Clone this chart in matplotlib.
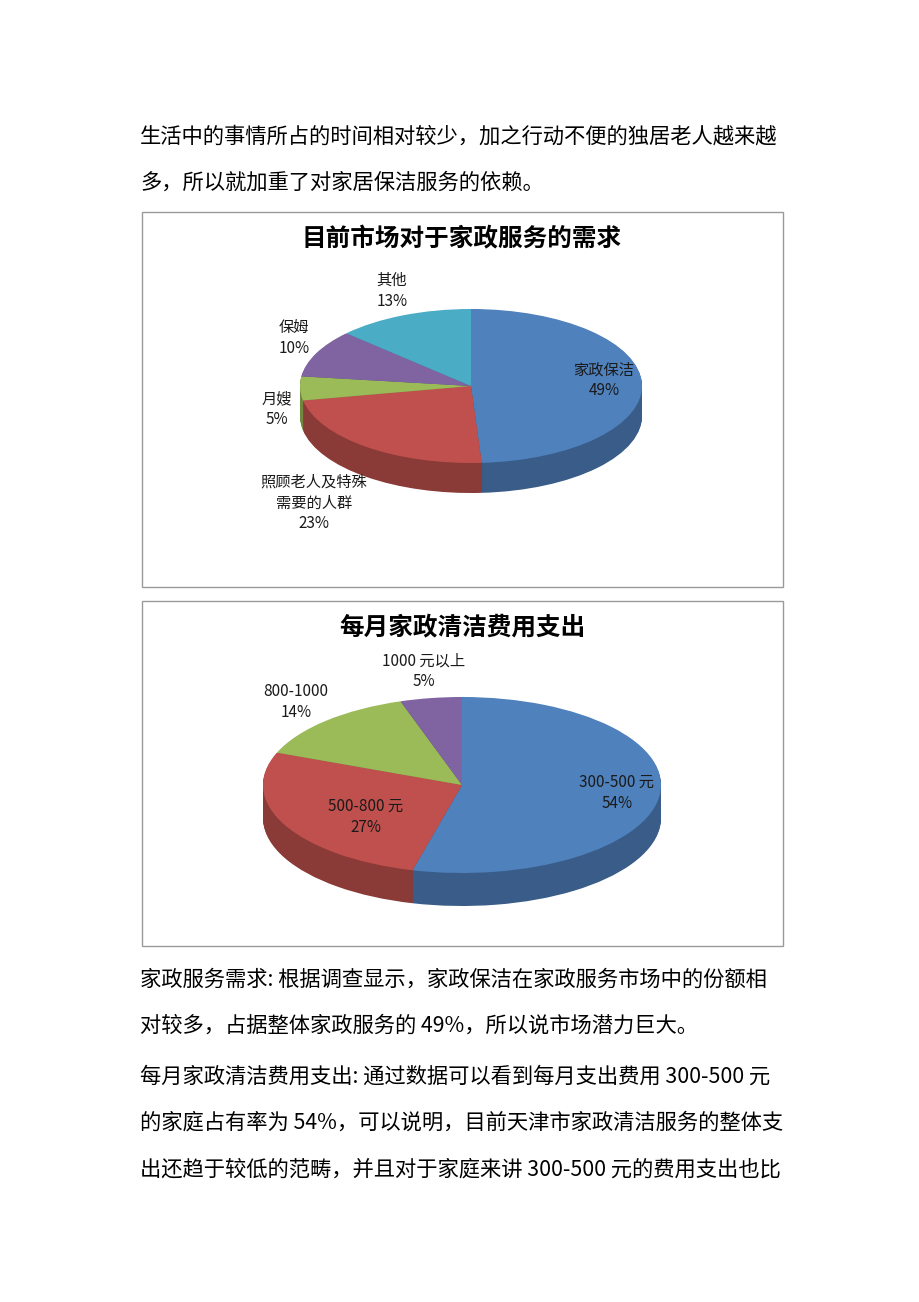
import numpy as np
import matplotlib
matplotlib.use("Agg")
import matplotlib.pyplot as plt
from matplotlib.colors import to_rgb
from matplotlib.patches import Rectangle

plt.rcParams['font.family'] = ['Noto Sans CJK SC', 'DejaVu Sans']

# data
demand_labels = ['家政保洁', '照顾老人及特殊\n需要的人群', '月嫂', '保姆', '其他']
demand_values = [49, 23, 5, 10, 13]
demand_colors = ['#4F81BD', '#C0504D', '#9BBB59', '#8064A2', '#4BACC6']

cost_labels = ['300-500 元', '500-800 元', '800-1000', '1000 元以上']
cost_values = [54, 27, 14, 5]
cost_colors = ['#4F81BD', '#C0504D', '#9BBB59', '#8064A2']

text_top = ['生活中的事情所占的时间相对较少，加之行动不便的独居老人越来越',
            '多，所以就加重了对家居保洁服务的依赖。']
text_bottom = ['家政服务需求: 根据调查显示，家政保洁在家政服务市场中的份额相',
               '对较多，占据整体家政服务的 49%，所以说市场潜力巨大。',
               '每月家政清洁费用支出: 通过数据可以看到每月支出费用 300-500 元',
               '的家庭占有率为 54%，可以说明，目前天津市家政清洁服务的整体支',
               '出还趋于较低的范畴，并且对于家庭来讲 300-500 元的费用支出也比']

W, H = 920, 1302
fig = plt.figure(figsize=(W / 100, H / 100), dpi=100)
fig.patch.set_facecolor('white')

# page layer in pixel coordinates
page = fig.add_axes([0, 0, 1, 1])
page.set_xlim(0, W)
page.set_ylim(H, 0)
page.axis('off')

for y, line in zip([137, 183], text_top):
    page.text(140, y, line, fontsize=15.35, va='center', ha='left', color='black')
for y, line in zip([980, 1026, 1077, 1123, 1170], text_bottom):
    page.text(140, y, line, fontsize=15.35, va='center', ha='left', color='black')

# chart frames
for top, bot in [(212, 587), (601, 946)]:
    page.add_patch(Rectangle((142, top), 641, bot - top, fill=False,
                             edgecolor='#9a9a9a', linewidth=1))

page.text(462, 239, '目前市场对于家政服务的需求', fontsize=17.7, fontweight='bold',
          ha='center', va='center')
page.text(462, 627, '每月家政清洁费用支出', fontsize=17.7, fontweight='bold',
          ha='center', va='center')


def pie3d(values, colors, cx, cy, a, b, depth):
    d = depth / b
    pad = 1.05
    left = cx - pad * a
    top = cy - pad * b
    w = 2 * pad * a
    h = (2 * pad + d) * b
    ax = fig.add_axes([left / W, 1 - (top + h) / H, w / W, h / H])
    dark = [tuple(c * 0.72 for c in to_rgb(col)) for col in colors]
    n = 40
    for k in range(n, 0, -1):
        ax.pie(values, colors=dark, startangle=90, counterclock=False,
               center=(0, -d * k / n), wedgeprops=dict(linewidth=0))
    ax.pie(values, colors=colors, startangle=90, counterclock=False,
           center=(0, 0), wedgeprops=dict(linewidth=0))
    ax.set_aspect('auto')
    ax.set_xlim(-pad, pad)
    ax.set_ylim(-pad - d, pad)
    ax.axis('off')
    return ax


pie3d(demand_values, demand_colors, 471, 386, 171, 77, 30)
pie3d(cost_values, cost_colors, 462, 785, 199, 88, 33)

# label layer above the pies
top_layer = fig.add_axes([0, 0, 1, 1])
top_layer.set_xlim(0, W)
top_layer.set_ylim(H, 0)
top_layer.axis('off')

lab = dict(fontsize=11, ha='center', va='center', color='#1a1a1a', linespacing=1.3)
demand_pos = [(604, 380), (314, 503), (277, 409), (294, 338), (392, 291)]
for (x, y), name, v in zip(demand_pos, demand_labels, demand_values):
    top_layer.text(x, y, f'{name}\n{v}%', **lab)

cost_pos = [(617, 793), (366, 817), (296, 702), (424, 671)]
for (x, y), name, v in zip(cost_pos, cost_labels, cost_values):
    top_layer.text(x, y, f'{name}\n{v}%', **lab)

fig.savefig('out.png', dpi=100)
